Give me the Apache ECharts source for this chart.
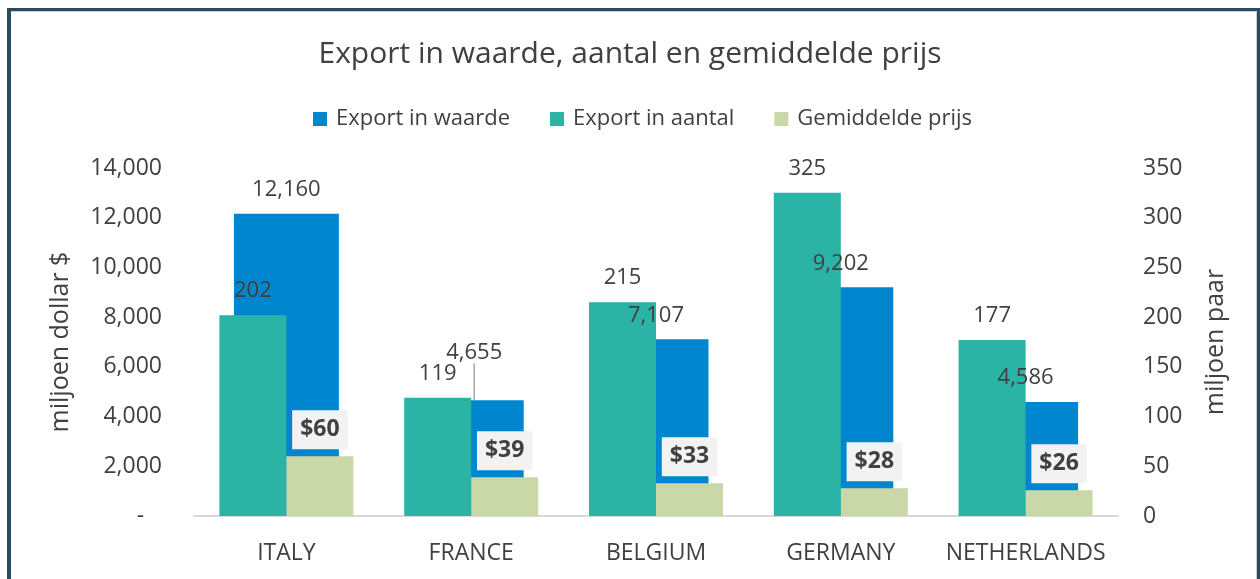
<!DOCTYPE html>
<html>
<head>
<meta charset="utf-8">
<script src="https://cdn.jsdelivr.net/npm/echarts@6/dist/echarts.min.js"></script>
<style>
body { margin: 0; background: #fff; }
#chart { position: absolute; left: 0; top: 0; width: 1260px; height: 579px; }
#frame {
    position: absolute; left: 7px; top: 8px; width: 1246px; height: 600px;
    border-left: 4px solid #2e4a5e; border-top: 3px solid #2e4a5e; border-right: 3px solid #2e4a5e;
    box-shadow: inset 0 1px 0 #c9ced3, inset -1px 0 0 #c9ced3;
    pointer-events: none;
}
</style>
</head>
<body>
<div id="chart"></div>
<div id="frame"></div>
<script>
var categories = ['ITALY', 'FRANCE', 'BELGIUM', 'GERMANY', 'NETHERLANDS'];
var exportWaarde = [12160, 4655, 7107, 9202, 4586];
var exportAantal = [202, 119, 215, 325, 177];
var gemiddeldePrijs = [60, 39, 33, 28, 26];

// label nudges for the waarde labels (dx, dy), France gets a leader line
var waardeLabelShift = [[4, 0], [3, -24], [26, 0], [4, 0], [3, 0]];

var textColor = '#404040';
var font = 'Open Sans';

var chart = echarts.init(document.getElementById('chart'));

var option = {
    textStyle: { fontFamily: font, color: textColor },
    title: {
        text: 'Export in waarde, aantal en gemiddelde prijs',
        left: 'center',
        top: 34,
        textStyle: { fontFamily: font, fontSize: 30, fontWeight: 'normal', color: textColor }
    },
    legend: {
        top: 103,
        left: 308,
        icon: 'rect',
        itemWidth: 14,
        itemHeight: 14,
        itemGap: 40,
        data: ['Export in waarde', 'Export in aantal', 'Gemiddelde prijs'],
        textStyle: { fontFamily: font, fontSize: 22, color: textColor, padding: [0, 0, 0, 4] }
    },
    grid: { left: 194, right: 142, top: 168, bottom: 63 },
    xAxis: [{
        type: 'category',
        data: categories,
        axisLine: { lineStyle: { color: '#d9d9d9', width: 2 } },
        axisTick: { show: false },
        axisLabel: { fontFamily: font, fontSize: 23, color: textColor, margin: 26, interval: 0 }
    }, {
        type: 'category',
        data: categories,
        show: false
    }],
    yAxis: [{
        type: 'value',
        min: 0, max: 14000, interval: 2000,
        name: 'miljoen dollar $',
        nameLocation: 'middle',
        nameGap: 121,
        nameTextStyle: { fontFamily: font, fontSize: 25, color: textColor },
        splitLine: { show: false },
        axisLine: { show: false },
        axisTick: { show: false },
        axisLabel: {
            fontFamily: font, fontSize: 23, color: textColor, margin: 32,
            formatter: function (v) {
                return v === 0 ? '-   ' : v.toLocaleString('en-US');
            }
        }
    }, {
        type: 'value',
        min: 0, max: 350, interval: 50,
        name: 'miljoen paar',
        nameLocation: 'middle',
        nameGap: 85,
        nameTextStyle: { fontFamily: font, fontSize: 25, color: textColor },
        splitLine: { show: false },
        axisLine: { show: false },
        axisTick: { show: false },
        axisLabel: { fontFamily: font, fontSize: 23, color: textColor, margin: 25 }
    }],
    series: [{
        name: 'Export in waarde',
        type: 'bar',
        xAxisIndex: 0,
        yAxisIndex: 0,
        barWidth: 105,
        itemStyle: { color: '#0086cf' },
        data: exportWaarde.map(function (v, i) {
            var item = { value: v };
            if (waardeLabelShift[i][1] === 0) {
                item.label = { offset: [waardeLabelShift[i][0], 0] };
            } else {
                item.labelLine = { show: true };
            }
            return item;
        }),
        label: {
            show: true,
            position: 'top',
            distance: 13,
            fontFamily: font,
            fontSize: 22,
            color: textColor,
            formatter: function (p) { return p.value.toLocaleString('en-US'); }
        },
        labelLine: { show: false, lineStyle: { color: '#a6a6a6', width: 1.5 } },
        labelLayout: function (p) {
            var s = waardeLabelShift[p.dataIndex];
            if (s[1] !== 0) return { dx: s[0], dy: s[1] };
            return {};
        }
    }, {
        name: 'Export in aantal',
        type: 'bar',
        xAxisIndex: 1,
        yAxisIndex: 1,
        barWidth: 67,
        barGap: '0%',
        itemStyle: { color: '#2bb3a6' },
        data: exportAantal,
        label: {
            show: true,
            position: 'top',
            distance: 13,
            fontFamily: font,
            fontSize: 22,
            color: textColor
        }
    }, {
        name: 'Gemiddelde prijs',
        type: 'bar',
        xAxisIndex: 1,
        yAxisIndex: 1,
        barWidth: 67,
        barGap: '0%',
        itemStyle: { color: '#cad8a8' },
        data: gemiddeldePrijs,
        label: {
            show: true,
            position: 'top',
            distance: 7,
            fontFamily: font,
            fontSize: 23,
            fontWeight: 'bold',
            color: textColor,
            backgroundColor: '#f2f2f2',
            padding: [8, 8, 8, 8],
            formatter: '${c}'
        }
    }]
};

chart.setOption(option);
</script>
</body>
</html>
